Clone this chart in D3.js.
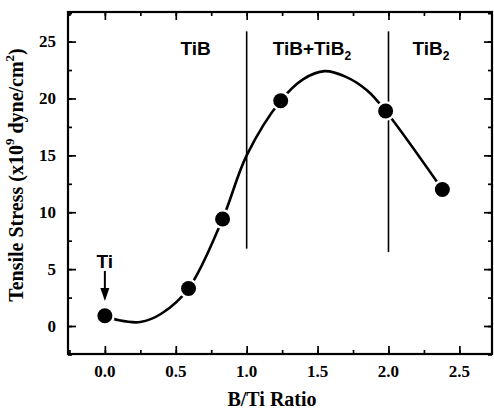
<!DOCTYPE html>
<html>
<head>
<meta charset="utf-8">
<script src="https://cdn.jsdelivr.net/npm/d3@7"></script>
<style>
  body { margin: 0; background: #fff; }
</style>
</head>
<body>
<div id="chart"></div>
<script>
// measured points (B/Ti ratio, stress)
var ratio  = [0.0, 0.59, 0.83, 1.24, 1.98, 2.38];
var stress = [0.9, 3.3, 9.4, 19.8, 18.9, 12.0];

// smooth fit line
var fitX = [0.0, 0.1, 0.25, 0.4, 0.59, 0.83, 1.0, 1.24, 1.4, 1.55, 1.7, 1.85, 1.98, 2.38];
var fitY = [0.9, 0.5, 0.35, 1.1, 3.3, 9.4, 15.0, 19.8, 21.7, 22.4, 21.9, 20.7, 18.9, 12.0];

// phase boundaries
var boundaries = [1.0, 2.0];
var xTicks = [0.0, 0.5, 1.0, 1.5, 2.0, 2.5];
var xTickLabels = ["0.0", "0.5", "1.0", "1.5", "2.0", "2.5"];
var yTicks = [0, 5, 10, 15, 20, 25];
var yTickLabels = ["0", "5", "10", "15", "20", "25"];

var svgWidth = 494, svgHeight = 411;
var margin = {top: 12, right: 2, bottom: 57, left: 68};
var width = svgWidth - margin.left - margin.right;
var height = svgHeight - margin.top - margin.bottom;

var serif = "Liberation Serif";
var sans = "Liberation Sans";

var svg = d3.select("#chart").append("svg")
    .attr("width", svgWidth).attr("height", svgHeight)
  .append("g")
    .attr("transform", `translate(${margin.left},${margin.top})`);

var x = d3.scaleLinear().domain([-0.26, 2.73]).range([0, width]);
var y = d3.scaleLinear().domain([-2.46, 27.6]).range([height, 0]);

var xMinor = d3.range(-0.25, 2.75, 0.25);
var yMinor = d3.range(-2.5, 27.6, 2.5);

// ticks on all four sides, pointing inward
function tickAxis(axis, vals, size, tr) {
  svg.append("g").attr("transform", tr)
    .call(axis.tickValues(vals).tickSize(-size).tickFormat(""))
    .call(g => g.select(".domain").remove())
    .selectAll("line").attr("stroke-width", 1.7);
}
tickAxis(d3.axisBottom(x), xMinor, 4, `translate(0,${height})`);
tickAxis(d3.axisTop(x), xMinor, 4, "translate(0,0)");
tickAxis(d3.axisLeft(y), yMinor, 4, "translate(0,0)");
tickAxis(d3.axisRight(y), yMinor, 4, `translate(${width},0)`);
tickAxis(d3.axisBottom(x), xTicks, 8, `translate(0,${height})`);
tickAxis(d3.axisTop(x), xTicks, 8, "translate(0,0)");
tickAxis(d3.axisLeft(y), yTicks, 8, "translate(0,0)");
tickAxis(d3.axisRight(y), yTicks, 8, `translate(${width},0)`);

// tick labels
svg.selectAll(".xlab").data(xTicks).enter().append("text")
  .attr("x", d => x(d)).attr("y", height + 23).attr("text-anchor", "middle")
  .attr("font-family", serif).attr("font-weight", "bold").attr("font-size", 17)
  .text((d, i) => xTickLabels[i]);
svg.selectAll(".ylab").data(yTicks).enter().append("text")
  .attr("x", -12).attr("y", d => y(d)).attr("dy", "0.34em").attr("text-anchor", "end")
  .attr("font-family", serif).attr("font-weight", "bold").attr("font-size", 17)
  .text((d, i) => yTickLabels[i]);

svg.append("rect").attr("width", width).attr("height", height)
  .attr("fill", "none").attr("stroke", "#000").attr("stroke-width", 2.2);

// boundary lines
svg.selectAll(".bound").data(boundaries).enter().append("line")
  .attr("x1", d => x(d)).attr("x2", d => x(d))
  .attr("y1", y(25.9)).attr("y2", d => y(d < 1.5 ? 6.8 : 6.5))
  .attr("stroke", "#000").attr("stroke-width", 1.6);

// fit curve
var fit = fitX.map((d, i) => [d, fitY[i]]);
svg.append("path").datum(fit)
  .attr("fill", "none").attr("stroke", "#000").attr("stroke-width", 2.6)
  .attr("d", d3.line().x(d => x(d[0])).y(d => y(d[1])).curve(d3.curveCatmullRom.alpha(0.5)));

// points with small white gap around them
var pts = ratio.map((d, i) => [d, stress[i]]);
svg.selectAll(".halo").data(pts).enter().append("circle")
  .attr("cx", d => x(d[0])).attr("cy", d => y(d[1])).attr("r", 10).attr("fill", "#fff");
svg.selectAll(".dot").data(pts).enter().append("circle")
  .attr("cx", d => x(d[0])).attr("cy", d => y(d[1])).attr("r", 7.5).attr("fill", "#000");

// phase labels
function label(xv, main, sub) {
  var t = svg.append("text").attr("x", x(xv)).attr("y", 43).attr("text-anchor", "middle")
    .attr("font-family", sans).attr("font-weight", "bold").attr("font-size", 19);
  t.append("tspan").text(main);
  if (sub) t.append("tspan").attr("font-size", 12).attr("dy", 5).text(sub);
}
label(0.64, "TiB");
label(1.46, "TiB+TiB", "2");
label(2.3, "TiB", "2");

svg.append("text").attr("x", x(0)).attr("y", 256).attr("text-anchor", "middle")
  .attr("font-family", sans).attr("font-weight", "bold").attr("font-size", 19).text("Ti");
svg.append("line").attr("x1", x(0)).attr("x2", x(0)).attr("y1", 259).attr("y2", 278)
  .attr("stroke", "#000").attr("stroke-width", 2);
svg.append("path").attr("d", `M${x(0) - 4.5},${276} L${x(0) + 4.5},${276} L${x(0)},${289} Z`).attr("fill", "#000");

// axis titles
svg.append("text").attr("x", width / 2 - 8).attr("y", height + 52)
  .attr("text-anchor", "middle")
  .attr("font-family", serif).attr("font-weight", "bold").attr("font-size", 20)
  .text("B/Ti Ratio");

var yt = svg.append("text").attr("transform", `translate(${-45},${height / 2 - 8}) rotate(-90)`)
  .attr("text-anchor", "middle")
  .attr("font-family", serif).attr("font-weight", "bold").attr("font-size", 20);
yt.append("tspan").text("Tensile Stress (x10");
yt.append("tspan").attr("font-size", 13).attr("dy", -9).text("9");
yt.append("tspan").attr("dy", 9).text(" dyne/cm");
yt.append("tspan").attr("font-size", 13).attr("dy", -9).text("2");
yt.append("tspan").attr("dy", 9).text(")");
</script>
</body>
</html>
